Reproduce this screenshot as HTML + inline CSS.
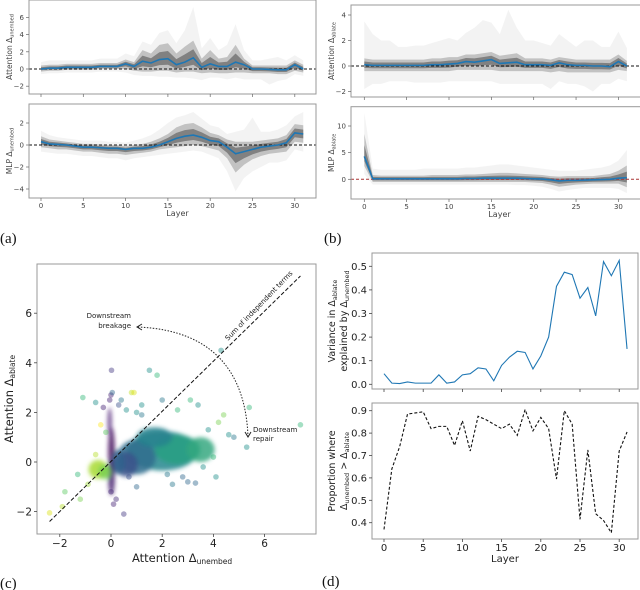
<!DOCTYPE html>
<html><head><meta charset="utf-8">
<style>
html,body{margin:0;padding:0;background:#fff;}
svg{display:block;font-family:"DejaVu Sans","Liberation Sans",sans-serif;}
.tk{font-size:7px;fill:#444;}
.tk2{font-size:10.5px;fill:#222;}
.pl{font-family:"Liberation Serif",serif;font-size:15px;fill:#111;}
</style></head>
<body>
<svg id="fig" width="640" height="590" viewBox="0 0 640 590" xmlns="http://www.w3.org/2000/svg">
<defs><filter id="blur" x="-50%" y="-50%" width="200%" height="200%"><feGaussianBlur stdDeviation="2.2"/></filter>
<clipPath id="clipC"><rect x="37" y="264" width="279" height="270"/></clipPath></defs>
</svg>
<script>
const layers=[...Array(32).keys()];
// (a) top: attention Δunembed
const aTopMean=[0,0.1,0.1,0.2,0.2,0.2,0.2,0.3,0.3,0.3,0.6,0.3,0.9,0.7,1.1,1.2,0.5,0.8,1.3,0.2,0.6,0.3,0.3,0.8,0.5,0,0,-0.05,-0.1,-0.1,0.5,0];
const aTopHi=[0.4,0.5,0.5,0.6,0.6,0.6,0.6,0.7,0.7,0.7,1.1,0.8,2.2,1.8,2.8,3.0,1.8,2.6,3.3,1.2,2.2,1.2,1.4,2.8,1.2,0.4,0.4,0.4,0.4,0.4,1.0,0.5];
const aTopLo=[-0.3,-0.2,-0.2,-0.1,-0.1,-0.1,-0.1,0,0,0,0,-0.2,-0.3,-0.3,-0.2,-0.2,-0.4,-0.3,-0.3,-0.5,-0.4,-0.5,-0.5,-0.4,-0.4,-0.5,-0.5,-0.5,-0.6,-0.6,-0.2,-0.4];
const aTopMax=[0.8,1,1,1,1,1,1,1.2,1.2,1.2,1.8,1.5,3.2,2.8,4.2,4.5,3,4.5,7.2,2.4,3.6,2.2,2.8,5.2,2.2,1,1,1.2,1.4,1,1.6,1];
const aTopMin=[-0.6,-0.5,-0.5,-0.4,-0.4,-0.4,-0.4,-0.3,-0.3,-0.3,-0.4,-0.7,-0.8,-0.8,-0.9,-0.9,-1,-1,-1.1,-1.3,-1,-1,-1.2,-1,-1.2,-1.2,-1.2,-1.8,-1.4,-1.2,-0.6,-0.8];
// (a) bottom: MLP Δunembed
const aBotMean=[0.3,0.1,0.05,0,-0.1,-0.2,-0.2,-0.25,-0.3,-0.3,-0.4,-0.3,-0.3,-0.2,0,0.3,0.6,0.8,0.9,0.7,0.4,0.3,-0.2,-0.8,-0.6,-0.4,-0.2,-0.1,0,0.2,1.1,1.0];
const aBotHi=[0.8,0.5,0.4,0.3,0.2,0.1,0.1,0.05,0,0,-0.1,0,0.1,0.3,0.6,1.0,1.6,1.9,2.0,1.6,1.1,0.9,0.5,0.3,0.3,0.3,0.4,0.5,0.6,0.9,1.9,1.8];
const aBotLo=[-0.2,-0.3,-0.4,-0.4,-0.5,-0.6,-0.6,-0.7,-0.8,-0.8,-0.9,-0.8,-0.7,-0.6,-0.4,-0.3,-0.2,-0.1,0,-0.1,-0.3,-0.5,-1.2,-2.5,-1.8,-1.3,-1.0,-0.8,-0.7,-0.6,0.3,0.2];
const aBotMax=[1.3,0.9,0.7,0.6,0.5,0.4,0.4,0.4,0.3,0.3,0.2,0.4,0.6,0.9,1.4,2.0,2.5,2.7,3.0,2.4,1.8,1.6,1.0,1.2,1.4,2.5,1.2,1.2,1.4,1.8,2.6,3.0];
const aBotMin=[-0.6,-0.7,-0.8,-0.8,-0.9,-1,-1,-1.1,-1.2,-1.2,-1.4,-1.2,-1.1,-1,-0.9,-0.8,-0.7,-0.6,-0.5,-0.6,-0.9,-1.2,-2.4,-4.2,-3,-2.4,-2,-1.6,-1.6,-1.4,-0.4,-0.6];
// (b) top: attention Δablate
const bTopMean=[0.1,0.05,0.05,0.05,0.05,0.05,0.05,0.05,0.1,0.1,0.15,0.2,0.35,0.3,0.4,0.5,0.2,0.25,0.3,0.1,0.1,0.1,0.05,0.25,0.1,0.05,0.05,0,0,-0.05,0.35,0];
const bTopHi=[0.6,0.5,0.5,0.5,0.5,0.5,0.5,0.5,0.6,0.6,0.7,0.7,0.9,0.9,1.0,1.1,0.8,0.9,1.0,0.6,0.6,0.6,0.5,0.7,0.6,0.5,0.5,0.5,0.5,0.5,0.9,0.4];
const bTopLo=[-0.4,-0.4,-0.4,-0.4,-0.4,-0.4,-0.4,-0.4,-0.4,-0.4,-0.4,-0.3,-0.3,-0.3,-0.3,-0.3,-0.4,-0.4,-0.4,-0.4,-0.4,-0.4,-0.5,-0.4,-0.5,-0.5,-0.5,-0.5,-0.5,-0.5,-0.3,-0.4];
const bTopMax=[3.5,2.5,2,2,1.5,1.5,1.6,1.6,1.8,2,2.2,2,2.6,3,3.6,3.4,2.5,4.4,3,2,2,1.8,1.6,2.5,2,1.5,2,2,1.5,1.5,2.7,1.4];
const bTopMin=[-1.8,-1.4,-1.4,-1.2,-1.2,-1.2,-1.3,-1.3,-1.3,-1.3,-1.2,-1.2,-1.2,-1.2,-1.2,-1.2,-1.4,-1.4,-1.4,-1.4,-1.4,-1.4,-1.8,-1.2,-1.4,-1.4,-1.6,-2,-1.4,-1.4,-1,-1.2];
// (b) bottom: MLP Δablate
const bBotMean=[4.3,0.1,0.1,0.1,0.1,0.1,0.1,0.1,0.1,0.1,0.1,0.1,0.15,0.15,0.2,0.2,0.2,0.2,0.2,0.15,0.1,0.05,-0.1,-0.3,-0.2,-0.2,-0.15,-0.1,-0.05,0,0.2,0.3];
const bBotHi=[8.5,0.8,0.7,0.7,0.7,0.7,0.7,0.7,0.8,0.8,0.8,0.8,0.9,0.9,1.0,1.1,1.2,1.2,1.1,1.0,0.9,0.8,0.6,0.5,0.6,0.6,0.6,0.6,0.8,1.0,1.6,2.6];
const bBotLo=[2.5,-0.5,-0.5,-0.5,-0.5,-0.5,-0.5,-0.5,-0.5,-0.5,-0.5,-0.5,-0.5,-0.5,-0.5,-0.5,-0.5,-0.5,-0.5,-0.5,-0.6,-0.7,-1.0,-1.4,-1.2,-1.0,-0.9,-0.8,-0.8,-0.8,-0.8,-1.5];
const bBotMax=[12.5,2,1.8,1.8,1.8,1.8,1.8,2,2,2,2,2,2.2,2.2,2.4,2.6,2.8,2.8,2.6,2.4,2.2,2,1.8,1.6,1.6,1.6,1.8,2,2.2,2.6,3.5,5.5];
const bBotMin=[1,-1,-1,-1,-1,-1,-1,-1,-1,-1,-1,-1,-1,-1,-1,-1,-1,-1,-1.1,-1.1,-1.2,-1.4,-1.8,-2.3,-2,-1.8,-1.6,-1.6,-1.6,-1.6,-1.8,-2.6];
// (d)
const varExplained=[0.045,0.005,0.003,0.01,0.005,0.005,0.005,0.04,0.005,0.01,0.04,0.045,0.07,0.065,0.015,0.08,0.115,0.14,0.135,0.065,0.12,0.2,0.415,0.475,0.465,0.365,0.41,0.29,0.52,0.46,0.525,0.15];
const propGreater=[0.37,0.64,0.74,0.885,0.89,0.895,0.82,0.83,0.83,0.745,0.855,0.72,0.875,0.86,0.84,0.82,0.84,0.79,0.905,0.81,0.87,0.82,0.595,0.9,0.84,0.415,0.725,0.44,0.41,0.355,0.72,0.805];
const layerTicks=[0,5,10,15,20,25,30];
// (c) scatter
const blobX=[2.0,1.0,2.6,0.6,0.02,0.02,-0.5,-0.25,3.5,1.7,0.3,-0.05];
const blobY=[0.45,0.2,0.5,-0.1,0.4,-0.6,-0.3,-0.4,0.5,1.0,0.0,1.6];
const blobRx=[1.4,0.75,0.9,0.45,0.13,0.13,0.38,0.25,0.55,0.7,0.25,0.08];
const blobRy=[0.8,0.7,0.6,0.5,1.0,0.75,0.38,0.3,0.5,0.4,0.5,0.6];
const blobColor=["#24868e","#2f6d8e","#2aa083","#3b528b","#440c5e","#46206e","#a8db34","#7ad151","#35a880","#26828e","#33638d","#5a2d7f"];
const ptX=[-1.1,-0.6,0.02,0.0,-0.05,0.05,0.4,1.5,1.8,1.2,2.0,3.1,3.4,4.3,4.2,5.4,7.4,4.8,4.6,5.3,4.4,3.0,-2.4,-1.9,-1.2,-1.8,-0.9,-1.3,0.5,0.1,0.2,2.4,3.3,0.8,0.9,-0.6,-0.3,1.0,2.6,3.8,1.2,0.3,0.6,-0.4,4.0,2.8,3.6,2.2,4.1,0.0,-0.2,0.7,1.0];
const ptY=[2.6,2.4,3.7,2.7,2.5,2.8,2.5,3.7,3.5,2.3,2.5,2.5,2.3,4.5,1.6,2.2,1.5,1.0,1.1,0.6,1.9,-0.8,-2.05,-1.8,-1.5,-1.2,-0.9,-0.5,-2.1,-1.7,-1.5,-0.9,-0.85,2.8,2.8,0.3,2.2,2.0,2.1,1.3,1.9,2.3,2.1,1.5,0.2,-0.6,-0.2,-0.5,-0.6,-1.2,1.2,-0.6,-1.0];
const ptColor=["#35b779","#21918c","#443983","#482475","#482475","#31688e","#2a788e","#21918c","#35b779","#21918c","#2a788e","#35b779","#21918c","#21918c","#7ad151","#35b779","#35b779","#2a788e","#21918c","#21918c","#7ad151","#31688e","#dce319","#b5de2b","#7ad151","#5ec962","#a0da39","#35b779","#443983","#482475","#472d7b","#2a788e","#31688e","#c2df23","#dce319","#b5de2b","#482475","#21918c","#35b779","#21918c","#2a788e","#3b528b","#21918c","#fde725","#35b779","#31688e","#21918c","#2a788e","#21918c","#472d7b","#5ec962","#3b528b","#31688e"];
const cTicks=[-2,0,2,4,6];

const NS="http://www.w3.org/2000/svg";
const svg=document.getElementById('fig');
function el(tag,attrs,parent){const e=document.createElementNS(NS,tag);for(const k in attrs)e.setAttribute(k,attrs[k]);(parent||svg).appendChild(e);return e;}
function txt(s,attrs,parent){const e=el('text',attrs,parent);e.textContent=s;return e;}

function linePanel(o){
  const g=el('g',{});
  
  
  const X=l=>o.x0+l*o.dx, Y=v=>o.y0-v*o.dy;
  const poly=(hi,lo,fill,op,nm)=>{
    let pts=layers.map(l=>X(l)+','+Y(hi[l])).concat(layers.slice().reverse().map(l=>X(l)+','+Y(lo[l])));
    const p=el('polygon',{points:pts.join(' '),fill:fill,'fill-opacity':op},g);
    
    
  };
  poly(o.max,o.min,'#bbb',0.18,'extreme-band');
  poly(o.hi,o.lo,'#999',0.55,'spread-band');
  const mh=layers.map(l=>(o.mean[l]+o.hi[l])/2), ml=layers.map(l=>(o.mean[l]+o.lo[l])/2);
  poly(mh,ml,'#555',0.6,'core-band');
  const z=el('line',{x1:o.fx0,x2:o.fx1,y1:Y(0),y2:Y(0),stroke:o.zc||'#111','stroke-width':1,'stroke-dasharray':'3,2'},g);
  
  
  const m=el('polyline',{points:layers.map(l=>X(l)+','+Y(o.mean[l])).join(' '),fill:'none',stroke:'#1f77b4','stroke-width':1.6},g);
  
  
  const f=el('rect',{x:o.fx0,y:o.fy0,width:o.fx1-o.fx0,height:o.fy1-o.fy0,fill:'none',stroke:'#999','stroke-width':1},g);
  
  
  o.yt.forEach(v=>{
    el('line',{x1:o.fx0-3,x2:o.fx0,y1:Y(v),y2:Y(v),stroke:'#666','stroke-width':0.7},g);
    const t=txt(String(v).replace('-','−'),{x:o.fx0-5,y:Y(v)+2.5,'text-anchor':'end',class:'tk'},g);
    
    
  });
  layerTicks.forEach(l=>{
    el('line',{x1:X(l),x2:X(l),y1:o.fy1,y2:o.fy1+3,stroke:'#666','stroke-width':0.7},g);
    if(o.xl){const t=txt(l,{x:X(l),y:o.fy1+10,'text-anchor':'middle',class:'tk'},g);
    
    }
  });
  if(o.xl){const t=txt('Layer',{x:(o.fx0+Math.min(o.fx1,316+o.fx0-29))/2+5,y:o.fy1+18,'text-anchor':'middle',class:'tk',style:'font-size:8px'},g);
    
    }
  const cy=(o.fy0+o.fy1)/2;
  const yl=txt(o.ylab,{x:0,y:0,'text-anchor':'middle',class:'tk',style:'font-size:7.5px',transform:`translate(${o.fx0-17},${cy}) rotate(-90)`},g);
  const sub=el('tspan',{'font-size':'5px',dy:'1.5'},yl); sub.textContent=o.sub;
  
  
}
linePanel({name:'panel-a-attention',mean:aTopMean,hi:aTopHi,lo:aTopLo,max:aTopMax,min:aTopMin,x0:41,dx:8.46,y0:69,dy:8.6,fx0:29,fx1:316,fy0:0,fy1:94,yt:[-2,0,2,4,6],xl:false,ylab:'Attention Δ',sub:'unembed'});
linePanel({name:'panel-a-mlp',mean:aBotMean,hi:aBotHi,lo:aBotLo,max:aBotMax,min:aBotMin,x0:41,dx:8.46,y0:145,dy:11,fx0:29,fx1:316,fy0:104,fy1:198,yt:[-4,-2,0,2],xl:true,ylab:'MLP Δ',sub:'unembed'});
linePanel({name:'panel-b-attention',mean:bTopMean,hi:bTopHi,lo:bTopLo,max:bTopMax,min:bTopMin,x0:364.3,dx:8.47,y0:66,dy:12.75,fx0:351,fx1:641,fy0:5,fy1:97,yt:[-2,0,2,4],xl:false,ylab:'Attention Δ',sub:'ablate'});
linePanel({name:'panel-b-mlp',mean:bBotMean,hi:bBotHi,lo:bBotLo,max:bBotMax,min:bBotMin,x0:364.3,dx:8.47,y0:179.3,dy:5.33,fx0:351,fx1:641,fy0:106.7,fy1:199,yt:[0,5,10],xl:true,ylab:'MLP Δ',sub:'ablate',zc:'#a33'});

[['(a)',0,243],['(b)',324,243],['(c)',0,588],['(d)',322,586]].forEach(a=>{
  const t=txt(a[0],{x:a[1],y:a[2],class:'pl'});
  
  
});

// (c) scatter
(function(){
  const g=el('g',{});
  
  
  const X=v=>111+v*25.6, Y=v=>462-v*24.8;
  const cg=el('g',{'clip-path':'url(#clipC)'},g);
  const bg=el('g',{filter:'url(#blur)'},cg);
  blobX.forEach((bx,i)=>{
    const e=el('ellipse',{cx:X(bx),cy:Y(blobY[i]),rx:blobRx[i]*25.6,ry:blobRy[i]*24.8,fill:blobColor[i],'fill-opacity':0.85},bg);
    
    
  });
  ptX.forEach((px,i)=>{
    const c=el('circle',{cx:X(px),cy:Y(ptY[i]),r:2.8,fill:ptColor[i],'fill-opacity':0.45},cg);
    
    
  });
  const d=el('line',{x1:X(-2.4),y1:Y(-2.4),x2:X(7.4),y2:Y(7.5),stroke:'#111','stroke-width':1,'stroke-dasharray':'4,2'},g);
  
  
  const a=el('path',{d:'M248,437 C246,380 220,330 137,327',fill:'none',stroke:'#222','stroke-width':1,'stroke-dasharray':'1.5,1.5'},g);
  
  
  el('path',{d:'M142,324 L137,327 L142,330',fill:'none',stroke:'#222','stroke-width':1},g);
  el('path',{d:'M245,432 L248,437 L251,432',fill:'none',stroke:'#222','stroke-width':1},g);
  const s=txt('Sum of independent terms',{x:0,y:0,style:'font-size:7px',fill:'#222',transform:'translate(228,341) rotate(-46)'},g);
  
  
  const b1=txt('Downstream',{x:131,y:318,'text-anchor':'end',style:'font-size:7px',fill:'#222'},g);
  
  
  txt('breakage',{x:131,y:328,'text-anchor':'end',style:'font-size:7px',fill:'#222'},g);
  const r1=txt('Downstream',{x:253,y:432,style:'font-size:7px',fill:'#222'},g);
  
  
  txt('repair',{x:253,y:441,style:'font-size:7px',fill:'#222'},g);
  const f=el('rect',{x:37,y:264,width:279,height:270,fill:'none',stroke:'#999','stroke-width':1},g);
  
  
  cTicks.forEach(v=>{
    el('line',{x1:X(v),x2:X(v),y1:534,y2:537,stroke:'#444','stroke-width':0.8},g);
    const t=txt(String(v).replace('-','−'),{x:X(v),y:547,'text-anchor':'middle',class:'tk2'},g);
    
    
    el('line',{x1:34,x2:37,y1:Y(v),y2:Y(v),stroke:'#444','stroke-width':0.8},g);
    const u=txt(String(v).replace('-','−'),{x:32,y:Y(v)+4,'text-anchor':'end',class:'tk2'},g);
    
    
  });
  const xl=txt('Attention Δ',{x:132,y:562,class:'tk2',style:'font-size:11.5px'},g);
  const xs=el('tspan',{'font-size':'7.5px',dy:'2'},xl); xs.textContent='unembed';
  
  
  const yl=txt('Attention Δ',{x:0,y:0,'text-anchor':'middle',class:'tk2',style:'font-size:11.5px',transform:'translate(13,399) rotate(-90)'},g);
  const ys=el('tspan',{'font-size':'7.5px',dy:'2'},yl); ys.textContent='ablate';
  
  
})();

// (d)
function dPanel(o){
  const g=el('g',{});
  
  
  const X=l=>384+l*7.84;
  const p=el('polyline',{points:layers.map(l=>X(l)+','+o.Y(o.vals[l])).join(' '),fill:'none',stroke:o.col,'stroke-width':1.1,'stroke-dasharray':o.dash||'none'},g);
  
  
  const f=el('rect',{x:372,y:o.fy0,width:266,height:o.fy1-o.fy0,fill:'none',stroke:'#999','stroke-width':1},g);
  
  
  o.yt.forEach(v=>{
    el('line',{x1:369,x2:372,y1:o.Y(v),y2:o.Y(v),stroke:'#444','stroke-width':0.8},g);
    const t=txt(v.toFixed(1),{x:367,y:o.Y(v)+3.5,'text-anchor':'end',class:'tk2',style:'font-size:10px'},g);
    
    
  });
  layerTicks.forEach(l=>{
    el('line',{x1:X(l),x2:X(l),y1:o.fy1,y2:o.fy1+3,stroke:'#444','stroke-width':0.8},g);
    if(o.xl){const t=txt(l,{x:X(l),y:o.fy1+12,'text-anchor':'middle',class:'tk2',style:'font-size:10px'},g);
    
    }
  });
  if(o.xl){const t=txt('Layer',{x:505,y:o.fy1+23,'text-anchor':'middle',class:'tk2',style:'font-size:10px'},g);
    
    }
  const cy=(o.fy0+o.fy1)/2;
  o.lab.forEach((ln,i)=>{
    const t=txt('',{x:0,y:0,'text-anchor':'middle',class:'tk2',style:'font-size:9.5px',transform:`translate(${335+i*12},${cy}) rotate(-90)`},g);
    const parts=[[ln[0],'9.5px','0'],[ln[1],'6.5px','2'],[ln[2],'9.5px','-2'],[ln[3],'6.5px','2']];
    parts.forEach(pp=>{if(pp[0]){const s=el('tspan',{'font-size':pp[1],dy:pp[2]},t);s.textContent=pp[0];}});
    
    
  });
}
dPanel({name:'panel-d-variance',vals:varExplained,Y:v=>384.3-v*236,fy0:253,fy1:389,yt:[0,0.1,0.2,0.3,0.4,0.5],xl:false,col:'#1f77b4',
  lab:[['Variance in Δ','ablate'],['explained by Δ','unembed']]});
dPanel({name:'panel-d-proportion',vals:propGreater,Y:v=>410.7-(v-0.9)*224,fy0:403,fy1:539,yt:[0.4,0.5,0.6,0.7,0.8,0.9],xl:true,col:'#111',dash:'3,2',
  lab:[['Proportion where'],['Δ','unembed',' > Δ','ablate']]});
</script>
</body></html>
